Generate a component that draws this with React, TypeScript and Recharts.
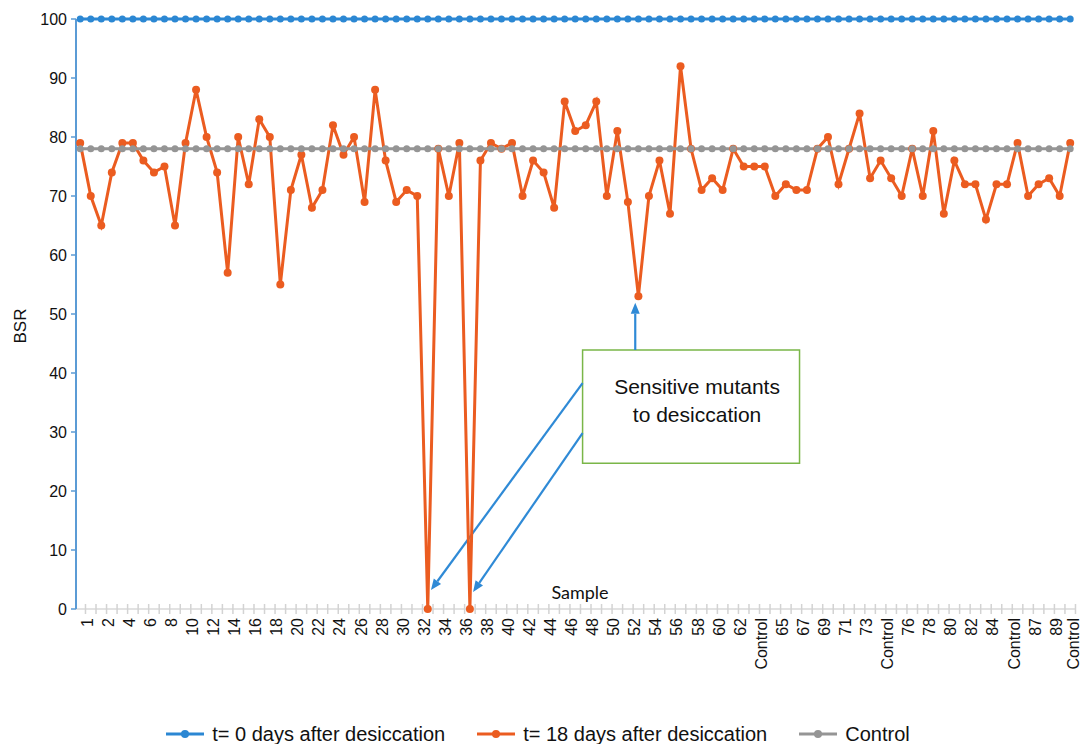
import React from 'react';
import { LineChart, Line, XAxis, YAxis, Legend, ReferenceArea, ReferenceLine } from 'recharts';

// tick labels, one for every second sample
const axisLabels = [
  '1', '2', '4', '6', '8', '10', '12', '14', '16', '18', '20', '22', '24', '26', '28', '30',
  '32', '34', '36', '38', '40', '42', '44', '46', '48', '50', '52', '54', '56', '58', '60', '62',
  'Control', '65', '67', '69', '71', '73', 'Control', '76', '78', '80', '82', '84', 'Control',
  '87', '89', 'Control',
];

// BSR at t = 0 days
const t0Values = [
  100, 100, 100, 100, 100, 100, 100, 100, 100, 100, 100, 100, 100, 100, 100, 100, 100, 100, 100, 100,
  100, 100, 100, 100, 100, 100, 100, 100, 100, 100, 100, 100, 100, 100, 100, 100, 100, 100, 100, 100,
  100, 100, 100, 100, 100, 100, 100, 100, 100, 100, 100, 100, 100, 100, 100, 100, 100, 100, 100, 100,
  100, 100, 100, 100, 100, 100, 100, 100, 100, 100, 100, 100, 100, 100, 100, 100, 100, 100, 100, 100,
  100, 100, 100, 100, 100, 100, 100, 100, 100, 100, 100, 100, 100, 100, 100,
];

// BSR at t = 18 days
const t18Values = [
  79, 70, 65, 74, 79, 79, 76, 74, 75, 65,
  79, 88, 80, 74, 57, 80, 72, 83, 80, 55,
  71, 77, 68, 71, 82, 77, 80, 69, 88, 76,
  69, 71, 70, 0, 78, 70, 79, 0, 76, 79,
  78, 79, 70, 76, 74, 68, 86, 81, 82, 86,
  70, 81, 69, 53, 70, 76, 67, 92, 78, 71,
  73, 71, 78, 75, 75, 75, 70, 72, 71, 71,
  78, 80, 72, 78, 84, 73, 76, 73, 70, 78,
  70, 81, 67, 76, 72, 72, 66, 72, 72, 79,
  70, 72, 73, 70, 79,
];

// control BSR
const controlValues = [
  78, 78, 78, 78, 78, 78, 78, 78, 78, 78, 78, 78, 78, 78, 78, 78, 78, 78, 78, 78,
  78, 78, 78, 78, 78, 78, 78, 78, 78, 78, 78, 78, 78, 78, 78, 78, 78, 78, 78, 78,
  78, 78, 78, 78, 78, 78, 78, 78, 78, 78, 78, 78, 78, 78, 78, 78, 78, 78, 78, 78,
  78, 78, 78, 78, 78, 78, 78, 78, 78, 78, 78, 78, 78, 78, 78, 78, 78, 78, 78, 78,
  78, 78, 78, 78, 78, 78, 78, 78, 78, 78, 78, 78, 78, 78, 78,
];

const yTicks = [0, 10, 20, 30, 40, 50, 60, 70, 80, 90, 100];

const seriesNames = ['t= 0 days after desiccation', 't= 18 days after desiccation', 'Control'];

const BLUE = '#2b87d3';
const ORANGE = '#eb5c20';
const GREY = '#959595';
const ARROW = '#2f8ad6';
const FONT = '"Liberation Sans", Arial, sans-serif';
const CHART_W = 1081;

const data = t18Values.map((v, i) => ({
  idx: i,
  t0: t0Values[i],
  t18: v,
  control: controlValues[i],
}));

// sample positions get labels (every 2nd), tick marks sit between samples
const xTicks: number[] = [];
for (let i = 0; i < data.length; i++) {
  if (i % 2 === 0) xTicks.push(i);
  xTicks.push(i + 0.5);
}

function SampleTick(props: any) {
  const { x, y, payload } = props;
  const v = payload.value;
  if (!Number.isInteger(v)) {
    return <line x1={x} x2={x} y1={y - 5} y2={y + 5} stroke="#d3d3d3" strokeWidth={1.5} />;
  }
  // keep the last label inside the picture
  const lx = Math.min(x + 7, CHART_W - 8);
  const ly = y + 9;
  return (
    <text
      x={lx}
      y={ly}
      transform={`rotate(-90 ${lx} ${ly})`}
      textAnchor="end"
      dominantBaseline="central"
      fontSize={16}
      fontFamily={FONT}
      fill="#111"
    >
      {axisLabels[v / 2]}
    </text>
  );
}

function Arrow(props: any) {
  const { x1, y1, x2, y2 } = props;
  const dx = x2 - x1;
  const dy = y2 - y1;
  const len = Math.sqrt(dx * dx + dy * dy);
  const ux = dx / len;
  const uy = dy / len;
  const head = 11;
  const half = 4.5;
  const bx = x2 - ux * head;
  const by = y2 - uy * head;
  return (
    <g>
      <line x1={x1} y1={y1} x2={bx} y2={by} stroke={ARROW} strokeWidth={2.2} />
      <polygon
        points={`${x2},${y2} ${bx - uy * half},${by + ux * half} ${bx + uy * half},${by - ux * half}`}
        fill={ARROW}
      />
    </g>
  );
}

function BoxLabel(props: any) {
  const { viewBox } = props;
  const cx = viewBox.x + viewBox.width / 2 + 6;
  return (
    <text fontFamily={FONT} fontSize={21} fill="#111" textAnchor="middle">
      <tspan x={cx} y={viewBox.y + 44}>Sensitive mutants</tspan>
      <tspan x={cx} y={viewBox.y + 72}>to desiccation</tspan>
    </text>
  );
}

function LegendRow(props: any) {
  const items = [...props.payload].sort(
    (a: any, b: any) => seriesNames.indexOf(a.value) - seriesNames.indexOf(b.value),
  );
  return (
    <div
      style={{
        display: 'flex',
        justifyContent: 'center',
        gap: 32,
        fontFamily: FONT,
        fontSize: 20,
        lineHeight: '20px',
        color: '#111',
        whiteSpace: 'nowrap',
      }}
    >
      {items.map((entry: any) => (
        <span key={entry.value} style={{ display: 'flex', alignItems: 'center' }}>
          <svg width={38} height={12}>
            <line x1={0} x2={38} y1={6} y2={6} stroke={entry.color} strokeWidth={3} />
            <circle cx={19} cy={6} r={4} fill={entry.color} />
          </svg>
          <span style={{ marginLeft: 8 }}>{entry.value}</span>
        </span>
      ))}
    </div>
  );
}

export default function App() {
  return (
    <div style={{ position: 'absolute', left: 0, top: 0, background: '#fff' }}>
      <LineChart width={CHART_W} height={744} data={data} margin={{ top: 19, right: 5, bottom: 0, left: 0 }}>
        <XAxis
          dataKey="idx"
          type="number"
          domain={[-0.4, 94.55]}
          ticks={xTicks}
          interval={0}
          tick={<SampleTick />}
          tickLine={false}
          tickSize={0}
          tickMargin={0}
          height={115}
          axisLine={{ stroke: '#d9d9d9', strokeWidth: 1.5 }}
          label={{
            content: (p: any) => (
              <text
                x={p.viewBox.x + p.viewBox.width * 0.504}
                y={p.viewBox.y - 10}
                textAnchor="middle"
                fontFamily="Lato, 'Open Sans', sans-serif"
                fontSize={18}
                fill="#111"
              >
                Sample
              </text>
            ),
          }}
        />
        <YAxis
          domain={[0, 100]}
          ticks={yTicks}
          width={76}
          tickSize={5}
          tickMargin={4}
          axisLine={{ stroke: '#5b9bd5', strokeWidth: 2 }}
          tickLine={{ stroke: '#5b9bd5', strokeWidth: 1.5 }}
          tick={{ fontSize: 16, fill: '#111', fontFamily: FONT }}
          label={{
            content: (p: any) => {
              const lx = p.viewBox.x + 20;
              const ly = p.viewBox.y + p.viewBox.height / 2 + 12;
              return (
                <text
                  x={lx}
                  y={ly}
                  transform={`rotate(-90 ${lx} ${ly})`}
                  textAnchor="middle"
                  dominantBaseline="central"
                  fontFamily={FONT}
                  fontSize={17}
                  fill="#111"
                >
                  BSR
                </text>
              );
            },
          }}
        />
        <Legend verticalAlign="bottom" height={20} content={<LegendRow />} />

        <ReferenceArea
          x1={47.7}
          x2={68.3}
          y1={24.7}
          y2={43.9}
          fill="#fff"
          fillOpacity={1}
          stroke="#7ab648"
          strokeWidth={1.5}
          label={<BoxLabel />}
        />
        <ReferenceLine segment={[{ x: 52.7, y: 43.9 }, { x: 52.7, y: 51.9 }]} shape={<Arrow />} />
        <ReferenceLine segment={[{ x: 47.7, y: 38.3 }, { x: 33.3, y: 3.2 }]} shape={<Arrow />} />
        <ReferenceLine segment={[{ x: 47.7, y: 29.8 }, { x: 37.3, y: 2.9 }]} shape={<Arrow />} />

        <Line
          dataKey="t0"
          name={seriesNames[0]}
          stroke={BLUE}
          strokeWidth={3}
          dot={{ r: 3.5, fill: BLUE, stroke: 'none' }}
          isAnimationActive={false}
        />
        <Line
          dataKey="t18"
          name={seriesNames[1]}
          stroke={ORANGE}
          strokeWidth={3}
          dot={{ r: 4, fill: ORANGE, stroke: 'none' }}
          isAnimationActive={false}
        />
        <Line
          dataKey="control"
          name={seriesNames[2]}
          stroke={GREY}
          strokeWidth={3}
          dot={{ r: 3.5, fill: GREY, stroke: 'none' }}
          isAnimationActive={false}
        />
      </LineChart>
    </div>
  );
}
